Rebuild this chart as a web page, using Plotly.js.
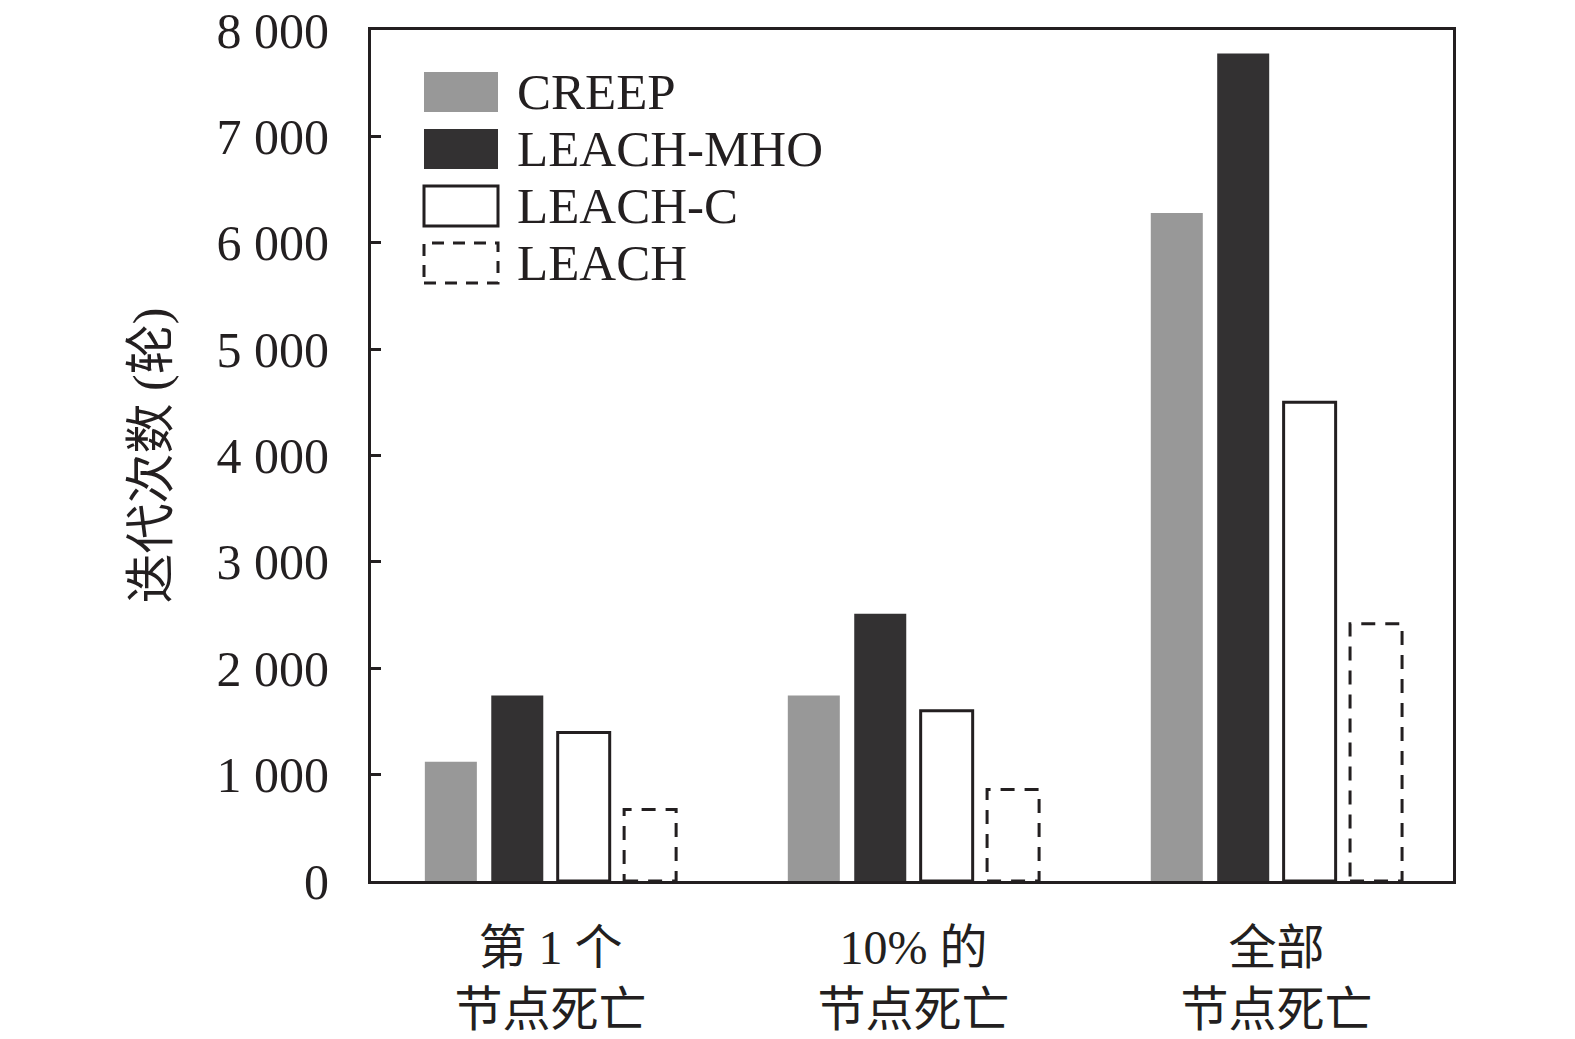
<!DOCTYPE html>
<html>
<head>
<meta charset="utf-8">
<script src="https://cdn.plot.ly/plotly-3.0.1.min.js"></script>
<style>
  html, body { margin: 0; padding: 0; background: #fff; }
  #chart { width: 1575px; height: 1039px; }
</style>
</head>
<body>
<div id="chart"></div>
<script>
// ---- data ---------------------------------------------------------------------
const CATEGORIES   = ['第 1 个<br>节点死亡', '10% 的<br>节点死亡', '全部<br>节点死亡'];
const SERIES_NAMES = ['CREEP', 'LEACH-MHO', 'LEACH-C', 'LEACH'];
const CREEP        = [1122, 1743, 6280];
const LEACH_MHO    = [1743, 2512, 7780];
const LEACH_C      = [1395, 1600, 4500];
const LEACH        = [672, 860, 2418];
const Y_TICKS      = [0, 1000, 2000, 3000, 4000, 5000, 6000, 7000, 8000];
const Y_TICK_TEXT  = ['0', '1 000', '2 000', '3 000', '4 000', '5 000', '6 000', '7 000', '8 000'];

const INK = '#231f20';
const FONT = 'Liberation Serif, "Noto Sans CJK SC", serif';
const BARGAP = 0.268, GROUPGAP = 0.217;

// plot-area box in pixels (used to size margins and place the hand-made legend)
const PLOT = { l: 371, r: 1453, t: 30, b: 881 };
const px2x = px => (px - PLOT.l) / (PLOT.r - PLOT.l);
const px2y = py => (PLOT.b - py) / (PLOT.b - PLOT.t);

const traces = [
  { name: SERIES_NAMES[0], y: CREEP,
    marker: { color: '#989898', line: { width: 0 } } },
  { name: SERIES_NAMES[1], y: LEACH_MHO,
    marker: { color: '#333132', line: { width: 0 } } },
  { name: SERIES_NAMES[2], y: LEACH_C,
    marker: { color: '#ffffff', line: { color: INK, width: 3 } } },
  // LEACH bars: transparent, outline drawn as dashed shapes below
  { name: SERIES_NAMES[3], y: LEACH,
    marker: { color: 'rgba(0,0,0,0)', line: { width: 0 } } },
].map(t => ({ type: 'bar', x: CATEGORIES, showlegend: false, hoverinfo: 'y+name', ...t }));

// ---- dashed outline for LEACH (bar geometry from Plotly's group layout) ------
const slot  = (1 - BARGAP) / SERIES_NAMES.length;
const width = slot * (1 - GROUPGAP);
const off   = -(1 - BARGAP) / 2 + slot * 3.5;
const shapes = LEACH.map((v, i) => ({
  type: 'rect', xref: 'x', yref: 'y',
  x0: i + off - width / 2, x1: i + off + width / 2, y0: 0, y1: v,
  line: { color: INK, width: 3, dash: '14px,10px' },
  fillcolor: 'rgba(0,0,0,0)',
}));

// ---- legend (big swatches like the figure) -----------------------------------
const SWATCH = [
  { fill: '#989898', line: 'rgba(0,0,0,0)', dash: 'solid' },
  { fill: '#333132', line: 'rgba(0,0,0,0)', dash: 'solid' },
  { fill: '#ffffff', line: INK, dash: 'solid' },
  { fill: 'rgba(0,0,0,0)', line: INK, dash: '12px,9px' },
];
const annotations = [];
SERIES_NAMES.forEach((name, i) => {
  const top = 72 + i * 57, bot = top + 40;
  shapes.push({
    type: 'rect', xref: 'paper', yref: 'paper',
    x0: px2x(424), x1: px2x(498), y0: px2y(bot), y1: px2y(top),
    fillcolor: SWATCH[i].fill,
    line: { color: SWATCH[i].line, width: 3, dash: SWATCH[i].dash },
  });
  annotations.push({
    xref: 'paper', yref: 'paper', x: px2x(515), y: px2y((top + bot) / 2),
    xanchor: 'left', yanchor: 'middle', showarrow: false,
    text: name, font: { family: FONT, size: 51, color: INK },
  });
});

const layout = {
  width: 1575, height: 1039,
  paper_bgcolor: '#fff', plot_bgcolor: '#fff',
  font: { family: FONT, size: 50, color: INK },
  margin: { l: PLOT.l, r: 1575 - PLOT.r, t: PLOT.t, b: 1039 - PLOT.b },
  barmode: 'group', bargap: BARGAP, bargroupgap: GROUPGAP,
  showlegend: false,
  xaxis: {
    type: 'category', range: [-0.4945, 2.4865],
    showline: true, linewidth: 3, linecolor: INK, mirror: true,
    ticks: '', showgrid: false, zeroline: false,
    tickfont: { family: FONT, size: 48, color: INK },
    ticklabelstandoff: 22,
  },
  yaxis: {
    range: [0, 8000], tickvals: Y_TICKS, ticktext: Y_TICK_TEXT,
    ticks: 'inside', ticklen: 10, tickwidth: 3, tickcolor: INK,
    showline: true, linewidth: 3, linecolor: INK, mirror: true,
    showgrid: false, zeroline: false,
    tickfont: { family: FONT, size: 50, color: INK },
    ticklabelstandoff: 29,
    title: { text: '迭代次数 (轮)', standoff: 33,
             font: { family: FONT, size: 50, color: INK } },
  },
  shapes, annotations,
};

Plotly.newPlot('chart', traces, layout, { displayModeBar: false, staticPlot: true });
</script>
</body>
</html>
